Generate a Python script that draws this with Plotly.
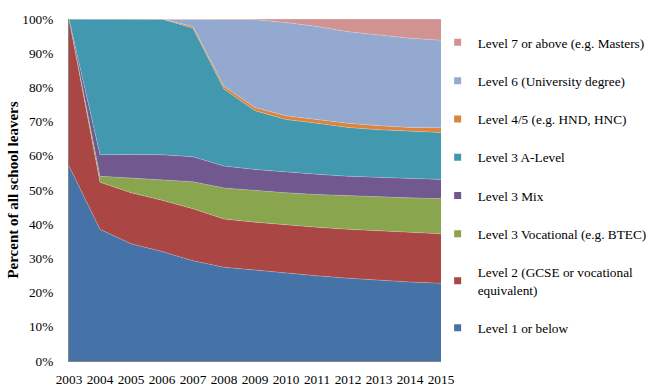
import plotly.graph_objects as go

years = list(range(2003, 2016))

series_names = [
    "Level 1 or below",
    "Level 2 (GCSE or vocational<br>equivalent)",
    "Level 3 Vocational (e.g. BTEC)",
    "Level 3 Mix",
    "Level 3 A-Level",
    "Level 4/5 (e.g. HND, HNC)",
    "Level 6 (University degree)",
    "Level 7 or above (e.g. Masters)",
]
colors = ["#4572A7", "#AA4643", "#89A54E", "#71588F", "#4198AF", "#DB843D", "#93A9CF", "#D19392"]

level1 = [57.0, 38.5, 34.3, 32.0, 29.3, 27.4, 26.6, 25.7, 24.9, 24.2, 23.6, 23.1, 22.7]
level2 = [43.0, 13.8, 14.9, 15.0, 15.2, 14.1, 14.0, 14.1, 14.2, 14.3, 14.4, 14.5, 14.5]
level3_voc = [0.0, 1.7, 4.3, 6.0, 7.9, 9.1, 9.2, 9.4, 9.6, 9.8, 10.0, 10.1, 10.3]
level3_mix = [0.0, 6.3, 6.9, 7.3, 7.3, 6.4, 6.2, 6.0, 5.9, 5.7, 5.7, 5.7, 5.6]
level3_alevel = [0.0, 39.7, 39.6, 39.7, 37.6, 22.5, 17.2, 15.4, 14.9, 14.3, 13.9, 13.7, 13.7]
level45 = [0.0, 0.0, 0.0, 0.0, 0.5, 0.8, 0.9, 1.1, 1.1, 1.2, 1.2, 1.2, 1.4]
level6 = [0.0, 0.0, 0.0, 0.0, 2.2, 19.7, 25.7, 27.3, 27.2, 26.8, 26.5, 26.1, 25.6]
level7 = [0.0, 0.0, 0.0, 0.0, 0.0, 0.0, 0.2, 1.0, 2.2, 3.7, 4.7, 5.6, 6.2]

series_values = [level1, level2, level3_voc, level3_mix, level3_alevel, level45, level6, level7]

y_ticks = list(range(0, 101, 10))
y_tick_labels = [f"{v}%" for v in y_ticks]

fig = go.Figure()
for name, vals, col in zip(series_names, series_values, colors):
    fig.add_trace(go.Scatter(
        x=years, y=vals, mode="lines", stackgroup="one",
        line=dict(width=0.6, color="rgba(255,255,255,0.35)"),
        fillcolor=col, showlegend=False, name=name, hoverinfo="skip",
    ))
# legend entries, top entry = highest level
for name, col in reversed(list(zip(series_names, colors))):
    fig.add_trace(go.Scatter(
        x=[None], y=[None], mode="markers", name=name, legendgroup=name,
        marker=dict(symbol="square", size=7, color=col),
    ))

fig.update_layout(
    width=659, height=390,
    margin=dict(l=69, r=218, t=19, b=29, autoexpand=False),
    paper_bgcolor="white", plot_bgcolor="white",
    font=dict(family="Liberation Serif", size=13.3, color="black"),
    showlegend=True,
    legend=dict(
        x=0.991, y=0.976, xanchor="left", yanchor="top",
        traceorder="grouped", tracegroupgap=18, maxheight=1,
        itemwidth=30, font=dict(size=13.3, family="Liberation Serif"),
        bgcolor="rgba(0,0,0,0)",
    ),
    xaxis=dict(
        range=[2003, 2015], tickmode="array", tickvals=years,
        ticktext=[str(y) for y in years], showgrid=False, zeroline=False,
        showline=True, linecolor="#868686", linewidth=1,
        ticks="outside", ticklen=6, tickcolor="rgba(0,0,0,0)",
        tickfont=dict(size=13.3),
    ),
    yaxis=dict(
        range=[0, 100], tickmode="array", tickvals=y_ticks, ticktext=y_tick_labels,
        showgrid=False, zeroline=False, showline=True, linecolor="#868686",
        linewidth=1, ticks="outside", ticklen=12, tickcolor="rgba(0,0,0,0)",
        tickfont=dict(size=13.3),
        title=dict(text="<b>Percent of all school leavers</b>", font=dict(size=15, family="Liberation Serif"), standoff=0),
    ),
)

fig.write_html("out.html", config={"displayModeBar": False},
               post_script="document.body.style.margin='0px';")
